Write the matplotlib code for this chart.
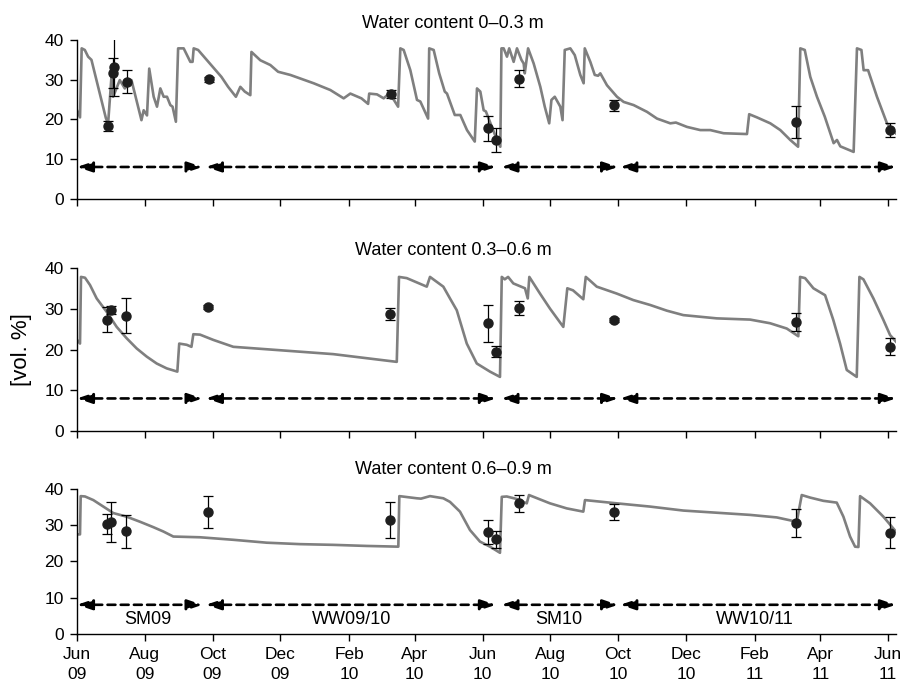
import pandas as pd
import matplotlib
matplotlib.use('Agg')
import matplotlib.pyplot as plt
import matplotlib.dates as mdates

plt.rcParams['font.family'] = ['Liberation Sans', 'DejaVu Sans']

# Simulation start; simulated series are given as days since this date
start = pd.Timestamp('2009-06-01')
x_end = pd.Timestamp('2011-06-08')

titles = ['Water content 0\u20130.3 m', 'Water content 0.3\u20130.6 m', 'Water content 0.6\u20130.9 m']

# Simulated water content, 0-0.3 m
top_day = [0, 2.7, 4.2, 7, 10, 13, 26, 28, 31, 32.5,
           38.5, 43, 49, 58, 60, 63, 65, 69, 72, 75,
           78, 81, 84, 86, 89, 91, 96, 99, 102, 104,
           105, 109, 130, 136, 143, 147, 151, 156, 157, 165,
           174, 181, 192, 201, 213, 228, 240, 246, 256, 262,
           263, 270, 276, 280, 285, 289, 291, 294, 300, 306,
           309, 316, 317, 321, 326, 331, 333, 340, 345, 351,
           358, 360, 363, 366, 368, 378, 381, 382, 384, 387,
           389, 393, 396, 400, 402, 403, 406, 411, 417, 421,
           425, 427, 430, 435, 437, 439, 444, 448, 453, 456,
           457, 462, 466, 469, 471, 477, 486, 492, 501, 513,
           522, 534, 539, 549, 561, 570, 582, 603, 605, 612,
           624, 633, 642, 649, 651, 655, 660, 666, 673, 681,
           684, 687, 699, 702, 706, 708, 712, 720, 729, 737]
top_sim = [22.3, 20.5, 37.9, 37.5, 35.8, 35.0, 20.3, 19.0, 30.7, 25.7,
           29.9, 27.8, 29.9, 19.8, 22.3, 21.0, 32.8, 25.7, 23.2, 27.8,
           25.7, 25.7, 23.6, 23.2, 19.4, 37.9, 37.9, 36.2, 34.5, 34.5,
           37.9, 37.5, 30.7, 28.2, 25.7, 28.2, 27.0, 26.1, 37.0, 34.9,
           33.7, 32.0, 31.2, 30.3, 29.1, 27.4, 25.3, 26.5, 25.3, 23.9,
           26.5, 26.3, 25.3, 26.3, 25.0, 23.2, 37.9, 37.5, 32.4, 24.9,
           24.5, 20.2, 37.9, 37.5, 31.6, 27.0, 26.5, 21.1, 21.1, 17.3,
           14.4, 27.8, 27.0, 22.3, 22.0, 14.8, 13.1, 37.9, 37.9, 35.8,
           37.9, 34.5, 37.9, 35.0, 34.1, 31.6, 37.9, 34.1, 28.2, 23.2,
           19.0, 24.9, 25.7, 23.2, 19.8, 37.5, 37.9, 36.2, 31.2, 29.1,
           37.9, 34.5, 31.2, 31.0, 31.6, 28.6, 25.7, 24.4, 23.6, 21.9,
           20.2, 19.0, 19.2, 18.1, 17.3, 17.3, 16.5, 16.3, 21.3, 20.5,
           19.0, 17.3, 14.8, 13.1, 37.9, 37.5, 30.7, 25.7, 20.7, 14.0,
           14.8, 13.2, 11.8, 37.9, 37.5, 32.4, 32.4, 25.7, 19.0, 16.5]

# Simulated water content, 0.3-0.6 m
mid_day = [0, 2.7, 3.6, 7.2, 11.7, 17.7, 26.7, 35.7, 44.7, 53.7,
           62.7, 71.7, 80.7, 90.3, 92, 98.7, 103, 104.7, 110.7, 122.7,
           140.7, 170.7, 200.7, 230.7, 260.7, 287.8, 289.8, 296.8, 314.8, 317.7,
           329.7, 335.7, 341.8, 350.8, 359.8, 371.7, 380.7, 382.3, 385, 388,
           392.7, 403.2, 405.7, 407.1, 416.7, 425.7, 437.7, 441.3, 446.4, 455.7,
           457.9, 461.7, 467.8, 485.8, 500.7, 515.8, 530.8, 545.7, 575.8, 605.8,
           623.8, 638.8, 649.2, 650.8, 655.3, 662.8, 673.3, 680.7, 686.8, 692.8,
           701.8, 704.2, 707.8, 716.8, 725.8, 731.8, 737]
mid_sim = [22.4, 21.5, 37.9, 37.7, 35.9, 32.6, 29.3, 25.6, 22.8, 20.3,
           18.3, 16.6, 15.4, 14.6, 21.5, 21.2, 20.7, 23.8, 23.7, 22.4,
           20.7, 20.1, 19.5, 18.9, 17.9, 17.0, 37.9, 37.6, 35.5, 37.9,
           35.5, 32.6, 29.7, 21.5, 16.6, 14.6, 13.3, 37.9, 37.3, 37.9,
           36.3, 35.1, 32.6, 37.9, 33.8, 30.1, 25.6, 35.1, 34.6, 32.4,
           37.9, 37.0, 35.5, 33.8, 32.2, 31.0, 29.6, 28.5, 27.7, 27.4,
           26.5, 25.2, 23.3, 37.9, 37.6, 35.1, 33.4, 27.3, 21.5, 15.0,
           13.3, 37.9, 37.3, 32.6, 27.3, 23.6, 22.0]

# Simulated water content, 0.6-0.9 m
bot_day = [0, 2.7, 3.3, 7.2, 14.7, 23.7, 32.7, 44.7, 56.7, 68.7,
           77.7, 86.7, 110.7, 140.7, 170.7, 200.7, 230.7, 260.7, 289.2, 290.1,
           305.8, 309.6, 317.7, 329.7, 335.7, 344.7, 353.7, 362.7, 371.7, 380.7,
           382.3, 386.8, 395.8, 404.8, 406.8, 425.7, 440.8, 455.7, 457.2, 485.8,
           515.8, 545.7, 575.8, 605.8, 629.8, 647.8, 652.3, 659.8, 671.7, 683.8,
           689.8, 695.8, 700.3, 703.3, 704.8, 713.8, 725.8, 737]
bot_sim = [27.5, 27.5, 38.1, 38.0, 37.0, 35.2, 33.4, 32.4, 31.0, 29.5,
           28.3, 26.9, 26.7, 26.0, 25.2, 24.8, 24.6, 24.3, 24.1, 38.1,
           37.5, 37.4, 38.1, 37.5, 36.5, 33.8, 28.7, 25.5, 24.1, 22.4,
           37.9, 38.0, 37.3, 36.1, 38.4, 36.1, 34.7, 33.8, 37.0, 36.1,
           35.2, 34.1, 33.5, 32.9, 32.2, 31.0, 38.4, 37.7, 36.8, 36.3,
           32.4, 26.9, 24.1, 24.0, 38.1, 36.1, 32.4, 28.3]

# Measured water content (mean and error)
top_obs_dates = ['2009-06-29', '2009-07-03', '2009-07-04', '2009-07-16', '2009-09-28', '2010-03-11',
                 '2010-06-06', '2010-06-13', '2010-07-04', '2010-09-27', '2011-03-10', '2011-06-03']
top_obs = [18.3, 31.6, 33.3, 29.5, 30.1, 26.5, 17.7, 14.8, 30.3, 23.6, 19.4, 17.3]
top_err = [1.2, 3.8, 7.5, 2.9, 0.6, 1.0, 3.1, 3.0, 2.1, 1.4, 4.0, 1.7]

obs_dates = ['2009-06-28', '2009-07-02', '2009-07-15', '2009-09-27', '2010-03-10', '2010-06-06',
             '2010-06-13', '2010-07-04', '2010-09-27', '2011-03-10', '2011-06-03']
mid_obs = [27.4, 29.7, 28.4, 30.5, 28.7, 26.5, 19.5, 30.3, 27.3, 26.7, 20.7]
mid_err = [3.1, 1.0, 4.2, 0.5, 1.5, 4.6, 1.3, 1.7, 0.4, 2.2, 2.1]
bot_obs = [30.4, 31.0, 28.4, 33.8, 31.5, 28.1, 26.1, 36.1, 33.8, 30.7, 28.0]
bot_err = [2.7, 5.5, 4.6, 4.4, 4.9, 3.3, 2.3, 2.3, 2.2, 3.9, 4.4]

# Crop seasons (arrows at 8 vol. %)
season_names = ['SM09', 'WW09/10', 'SM10', 'WW10/11']
season_start = ['2009-06-01', '2009-09-25', '2010-06-18', '2010-10-03']
season_end = ['2009-09-22', '2010-06-13', '2010-10-01', '2011-06-08']
season_label_dates = ['2009-08-04', '2010-02-03', '2010-08-09', '2011-02-01']
arrow_level = 8

fig = plt.figure(figsize=(9.06, 6.89), dpi=100)
positions = [[0.085, 0.7116, 0.9038, 0.2303],
             [0.085, 0.3745, 0.9038, 0.2360],
             [0.085, 0.0803, 0.9038, 0.2096]]
title_y = [0.966, 0.637, 0.318]

panels = [(top_day, top_sim, top_obs_dates, top_obs, top_err),
          (mid_day, mid_sim, obs_dates, mid_obs, mid_err),
          (bot_day, bot_sim, obs_dates, bot_obs, bot_err)]

axes = []
for i, (days, sim, odates, obs, err) in enumerate(panels):
    ax = fig.add_axes(positions[i])
    t = start + pd.to_timedelta(days, unit='D')
    ax.plot(t, sim, color='#7f7f7f', lw=1.9, zorder=2)
    ax.errorbar(pd.to_datetime(odates), obs, yerr=err, fmt='o', color='#1e1e1e',
                ecolor='black', elinewidth=0.9, capsize=3.5, capthick=0.9,
                markersize=6.5, zorder=3)

    for s, e in zip(season_start, season_end):
        ax.annotate('', xy=(mdates.date2num(pd.Timestamp(e)), arrow_level),
                    xytext=(mdates.date2num(pd.Timestamp(s)), arrow_level),
                    arrowprops=dict(arrowstyle='<|-|>,head_length=0.65,head_width=0.22',
                                    linestyle=(0, (3.0, 2.0)), lw=1.9, color='black',
                                    shrinkA=0, shrinkB=0, mutation_scale=14),
                    annotation_clip=False)

    ax.set_xlim(start, x_end)
    ax.set_ylim(0, 40)
    ax.set_yticks([0, 10, 20, 30, 40])
    ax.spines['top'].set_visible(False)
    ax.spines['right'].set_visible(False)
    ax.spines['left'].set_linewidth(1.0)
    ax.spines['bottom'].set_linewidth(1.0)
    ax.xaxis.set_major_locator(mdates.MonthLocator(bymonth=[2, 4, 6, 8, 10, 12]))
    ax.xaxis.set_major_formatter(mdates.DateFormatter('%b\n%y'))
    ax.tick_params(axis='both', direction='out', length=5, width=1.0, labelsize=12.5, pad=4.5)
    if i < 2:
        ax.tick_params(axis='x', labelbottom=False)
    fig.text(0.5, title_y[i], titles[i], ha='center', va='center', fontsize=13)
    axes.append(ax)

# Season labels in bottom panel
for name, d in zip(season_names, season_label_dates):
    axes[2].text(pd.Timestamp(d), 3.8, name, ha='center', va='center', fontsize=13)

plt.setp(axes[2].get_xticklabels(), linespacing=1.45)

fig.text(0.024, 0.492, '[vol. %]', rotation=90, ha='center', va='center', fontsize=16)

fig.savefig('out.png', dpi=100)
